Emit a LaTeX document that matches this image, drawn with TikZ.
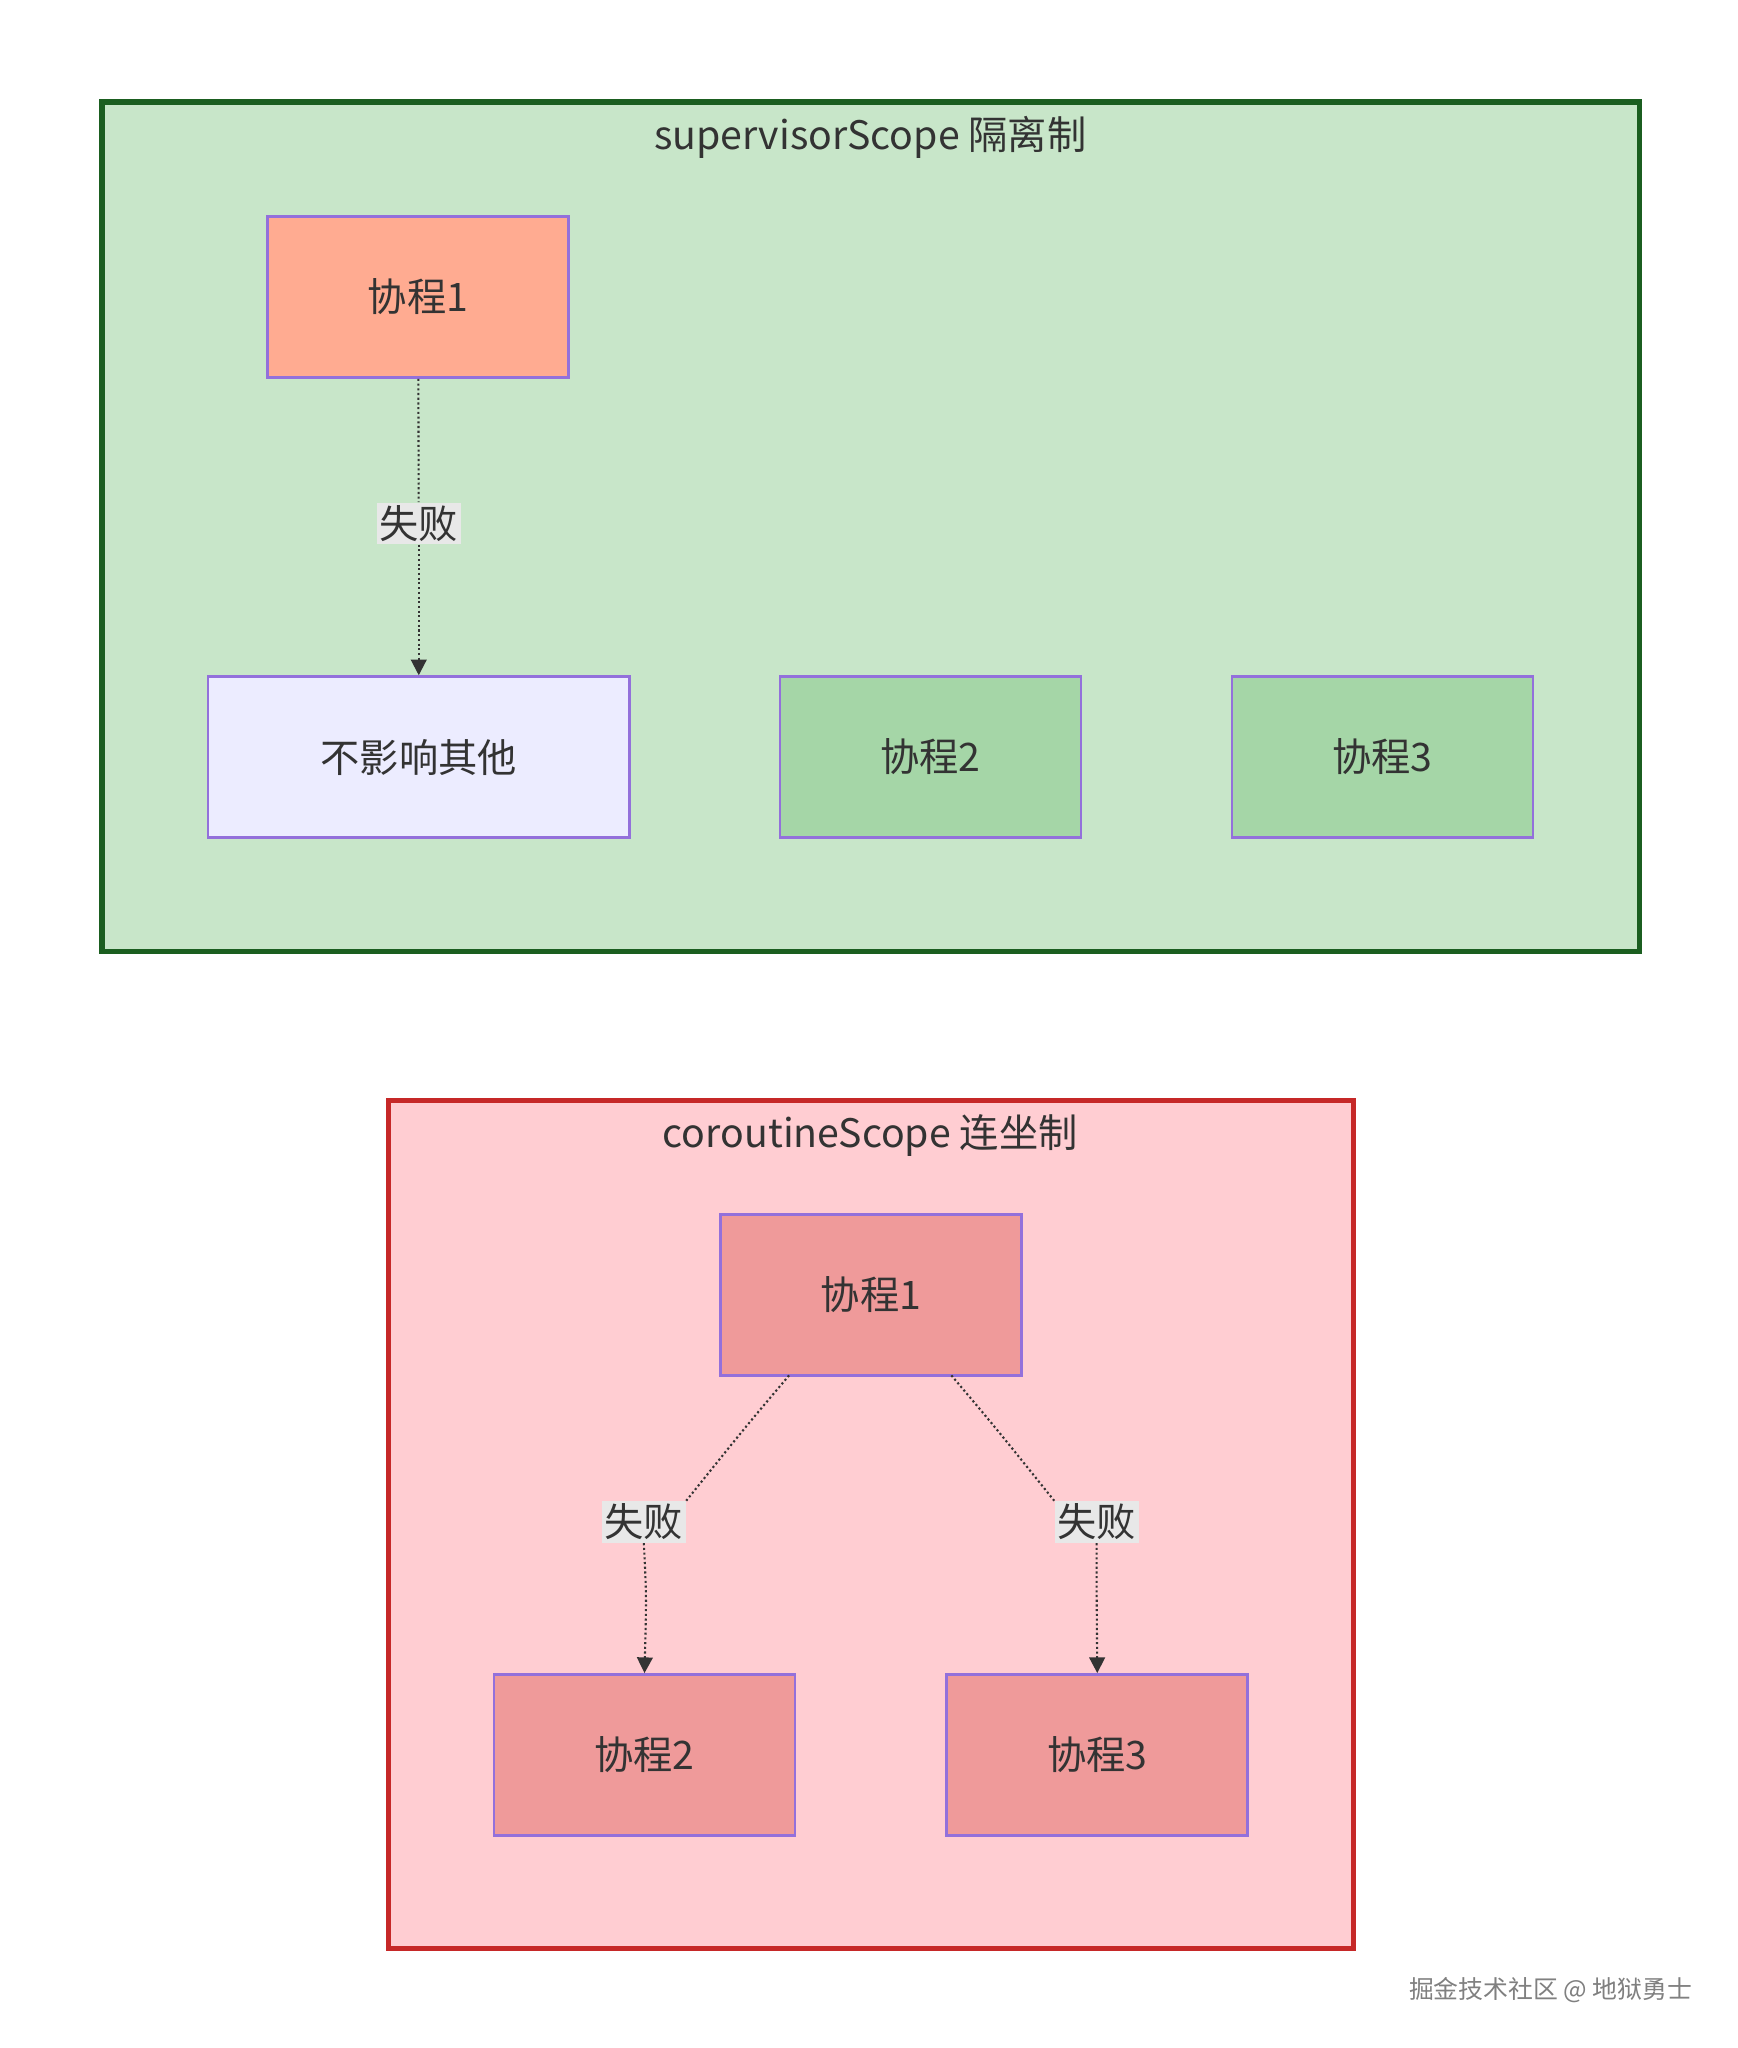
\documentclass[tikz,border=0pt]{standalone}
\usepackage{fontspec}
\setmainfont{Noto Sans CJK SC}
\usetikzlibrary{arrows.meta}
\definecolor{gfill}{HTML}{C8E6C9}\definecolor{gline}{HTML}{1B5E20}
\definecolor{rfill}{HTML}{FFCDD2}\definecolor{rline}{HTML}{C62828}
\definecolor{nline}{HTML}{9370DB}\definecolor{lbl}{HTML}{E8E8E8}
\definecolor{txt}{HTML}{333333}
\begin{document}
\begin{tikzpicture}[x=0.5pt,y=-0.5pt,
 nd/.style={draw=nline,line width=1pt,minimum width=115pt,minimum height=61.5pt,inner sep=0pt,font=\fontsize{15}{18}\selectfont,text=txt},
 lb/.style={fill=lbl,inner sep=1pt,font=\fontsize{15}{18}\selectfont,text=txt},
 ed/.style={draw=txt,line width=0.8pt,densely dotted,-{Triangle[length=6pt,width=6pt]}},
 ttl/.style={font=\fontsize{15}{18}\selectfont,text=txt}]
\useasboundingbox (0,0) rectangle (1328,1565);
\fill[white] (0,0) rectangle (1328,1565);
\draw[fill=gfill,draw=gline,line width=2pt] (78,78) rectangle (1253,727);
\node[ttl] (t1) at (665,105) {supervisorScope 隔离制};
\node[nd,fill={rgb,255:red,255;green,171;blue,145}] (a1) at (319.5,227) {协程1};
\node[nd,fill={rgb,255:red,236;green,236;blue,255},minimum width=161pt] (a0) at (320,578.5) {不影响其他};
\node[nd,fill={rgb,255:red,165;green,214;blue,167}] (a2) at (711,578.5) {协程2};
\node[nd,fill={rgb,255:red,165;green,214;blue,167}] (a3) at (1056.5,578.5) {协程3};
\node[lb] (l1) at (320,400) {失败};
\draw[line width=0.8pt,densely dotted,txt] (a1) -- (l1);
\draw[ed] (l1) -- (a0);
\draw[fill=rfill,draw=rline,line width=2pt] (297,841) rectangle (1034,1489);
\node[ttl] (t2) at (665,868) {coroutineScope 连坐制};
\node[nd,fill={rgb,255:red,239;green,154;blue,154}] (b1) at (665.5,989.5) {协程1};
\node[nd,fill={rgb,255:red,239;green,154;blue,154}] (b2) at (492.5,1341) {协程2};
\node[nd,fill={rgb,255:red,239;green,154;blue,154}] (b3) at (838.5,1341) {协程3};
\node[lb] (l2) at (492,1163) {失败};
\node[lb] (l3) at (838,1163) {失败};
\coordinate (s2) at (603,1051);\coordinate (s3) at (727,1051);
\draw[line width=0.8pt,densely dotted,txt] (s2) .. controls (570,1090) .. (l2.north east);
\draw[ed] (l2.south) .. controls (494,1220) .. (b2.north);
\draw[line width=0.8pt,densely dotted,txt] (s3) .. controls (760,1090) .. (l3.north west);
\draw[ed] (l3.south) .. controls (838,1220) .. (b3.north);
\node[font=\fontsize{9.5}{11}\selectfont,text=gray] (wm) at (1185,1521) {掘金技术社区 @ 地狱勇士};
\end{tikzpicture}
\end{document}
